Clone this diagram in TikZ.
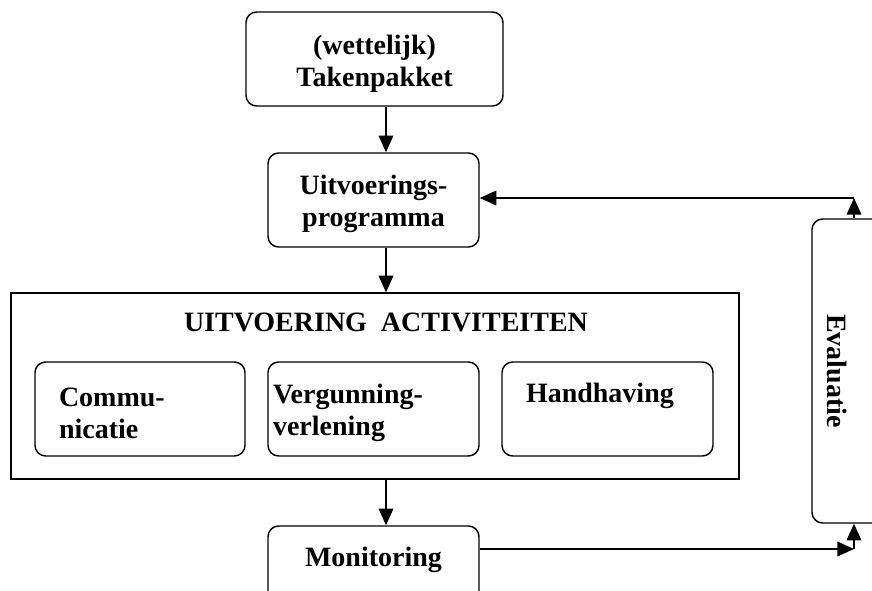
\documentclass[tikz,border=0pt]{standalone}
\usepackage{fontspec}
\setmainfont{Liberation Serif}
\usetikzlibrary{arrows.meta}
\newcommand{\topst}{\rule{0pt}{21pt}}
\begin{document}
\begin{tikzpicture}[x=0.75pt,y=-0.75pt,
  txt/.style={font=\bfseries\fontsize{21}{24}\selectfont, inner sep=0pt},
  box/.style={draw, line width=1.1pt, rounded corners=8pt, font=\bfseries\fontsize{21}{24}\selectfont, align=center, inner sep=0pt},
  bigbox/.style={draw, line width=1pt, inner sep=0pt},
  arr/.style={-{Triangle[length=12.5pt,width=11pt]}, line width=1.1pt}]
\useasboundingbox (0,0) rectangle (872,590);
\clip (0,0) rectangle (872,590);
\fill[white] (0,0) rectangle (872,590);
% boxes
\node[box, minimum width=192.75pt, minimum height=70.5pt] (tak) at (374.5,59) {\topst(wettelijk)\\Takenpakket};
\node[box, minimum width=158.25pt, minimum height=70.5pt] (uit) at (373.5,200) {\topst Uitvoerings-\\programma};
\node[bigbox, minimum width=546pt, minimum height=139.5pt] (act) at (375,386) {};
\node[txt] (actt) at (386,322) {UITVOERING\ \ ACTIVITEITEN};
\node[box, minimum width=157.5pt, minimum height=70.5pt, align=left, text width=121.5pt] (com) at (140,409) {\topst Commu-\\nicatie};
\node[box, minimum width=158.25pt, minimum height=70.5pt, align=left, text width=150.75pt] (ver) at (373.5,409) {\topst Vergunning-\\verlening};
\node[box, minimum width=158.25pt, minimum height=70.5pt, align=left, text width=122.25pt] (han) at (607.5,409) {\topst Handhaving\\\strut};
\node[box, minimum width=158.25pt, minimum height=70.5pt] (mon) at (373.5,573) {\topst Monitoring\\\strut};
\node[box, minimum width=75pt, minimum height=228pt] (eva) at (862,371) {};
\node[txt, rotate=-90] (evat) at (837,371) {Evaluatie};
% connectors
\coordinate (ax) at (386,0);
\draw[arr] (tak.south -| ax) -- (uit.north -| ax);
\draw[arr] (uit.south -| ax) -- (act.north -| ax);
\draw[arr] (act.south -| ax) -- (mon.north -| ax);
\coordinate (tc) at (854,198);
\coordinate (bc) at (854,549);
\draw[arr] (eva.north -| tc) -- (tc);
\draw[arr] (tc) -- (uit.east |- tc);
\draw[arr] (mon.east |- bc) -- (bc);
\draw[arr] (bc) -- (eva.south -| tc);
\end{tikzpicture}
\end{document}
